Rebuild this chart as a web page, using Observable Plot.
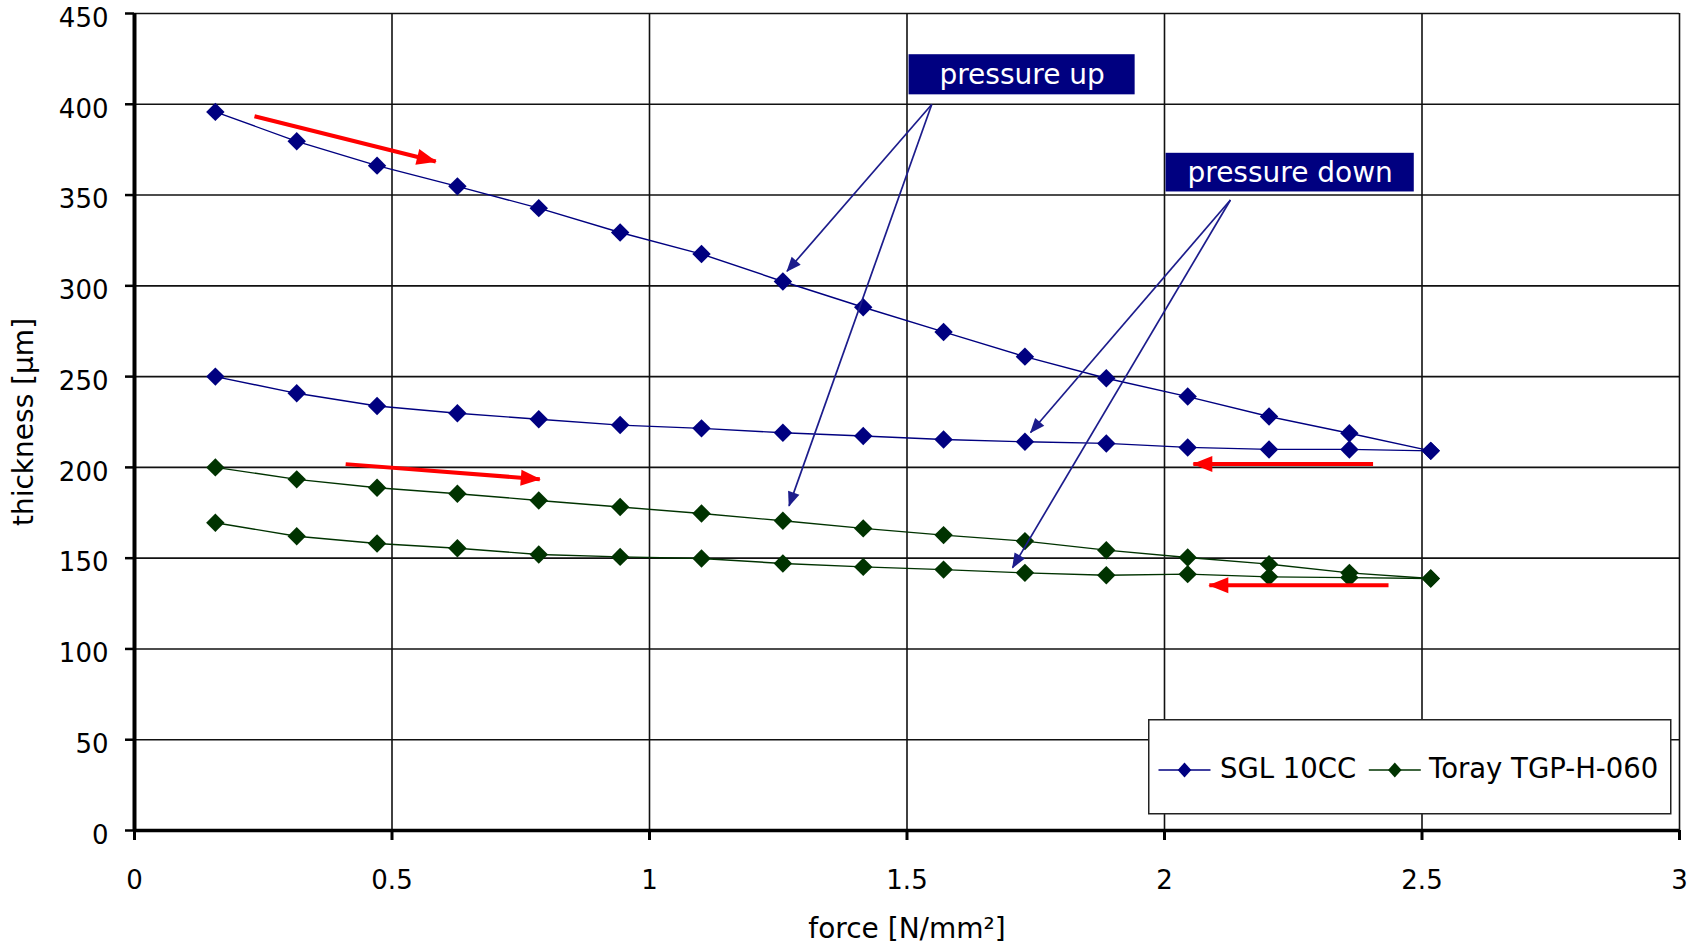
<!DOCTYPE html>
<html><head><meta charset="utf-8">
<script src="https://cdn.jsdelivr.net/npm/d3@7"></script>
<script src="https://cdn.jsdelivr.net/npm/@observablehq/plot@0.6"></script>
<style>
html,body{margin:0;padding:0;background:#fff;}
#wrap{position:relative;width:1701px;height:943px;overflow:hidden;background:#fff;}
</style></head><body>
<div id="wrap"></div>
<script>
// ---- data ----
const force = [0.157,0.315,0.471,0.627,0.785,0.943,1.101,1.259,1.415,1.571,1.729,1.887,2.045,2.203,2.359,2.517];
const sglUp = [395.8,379.6,366.2,354.8,342.8,329.4,317.5,302.4,288.2,274.6,261.0,249.1,239.0,228.0,218.8,209.1];
const sglDown = [250.0,240.8,233.8,229.8,226.5,223.3,221.5,219.1,217.3,215.4,214.1,213.2,211.0,209.9,209.9,209.1];
const torayUp = [200.0,193.4,188.8,185.5,181.8,178.2,174.6,170.6,166.4,162.7,159.4,154.4,150.4,146.7,141.9,138.8];
const torayDown = [169.5,162.1,158.1,155.5,152.0,150.7,149.8,147.1,145.2,143.7,141.9,140.6,141.2,139.7,139.3,138.8];

const seriesNames = ["SGL 10CC", "Toray TGP-H-060"];
const seriesColors = ["#000080", "#003300"];

const xTicks = [0, 0.5, 1, 1.5, 2, 2.5, 3];
const yTicks = [0, 50, 100, 150, 200, 250, 300, 350, 400, 450];
const xTitle = "force [N/mm²]";
const yTitle = "thickness [µm]";

// callout boxes
const boxText = ["pressure up", "pressure down"];
const boxX1 = [1.504, 2.003];
const boxX2 = [1.943, 2.485];
const boxY1 = [405.2, 351.7];
const boxY2 = [427.3, 373.0];

// callout arrows (navy)
const calloutFromX = [1.548, 1.548, 2.128, 2.128];
const calloutFromY = [399.9, 399.9, 347.3, 347.3];
const calloutToX = [1.267, 1.271, 1.740, 1.705];
const calloutToY = [308.0, 178.8, 219.2, 144.8];

// direction arrows (red)
const trendFromX = [0.233, 0.410, 2.405, 2.435];
const trendFromY = [393.4, 201.8, 201.8, 135.1];
const trendToX = [0.585, 0.787, 2.056, 2.087];
const trendToY = [368.5, 193.5, 201.8, 135.1];

// ---- build tables ----
const rows = [];
const addSeries = (name, phase, ys) => ys.forEach((y, i) => rows.push({name, phase, x: force[i], y}));
addSeries(seriesNames[0], "up", sglUp);
addSeries(seriesNames[0], "down", sglDown);
addSeries(seriesNames[1], "up", torayUp);
addSeries(seriesNames[1], "down", torayDown);

const boxes = boxText.map((t, i) => ({t, x1: boxX1[i], x2: boxX2[i], y1: boxY1[i], y2: boxY2[i], cx: (boxX1[i] + boxX2[i]) / 2, cy: (boxY1[i] + boxY2[i]) / 2}));
const callouts = calloutFromX.map((_, i) => ({x1: calloutFromX[i], y1: calloutFromY[i], x2: calloutToX[i], y2: calloutToY[i]}));
const trends = trendFromX.map((_, i) => ({x1: trendFromX[i], y1: trendFromY[i], x2: trendToX[i], y2: trendToY[i]}));

function filledHead(len, wid) {
  return (color, context) => {
    const doc = (context && context.document) || document;
    const ns = "http://www.w3.org/2000/svg";
    const m = doc.createElementNS(ns, "marker");
    m.setAttribute("viewBox", `0 ${-wid / 2} ${len} ${wid}`);
    m.setAttribute("markerUnits", "userSpaceOnUse");
    m.setAttribute("markerWidth", len);
    m.setAttribute("markerHeight", wid);
    m.setAttribute("refX", len - 1);
    m.setAttribute("refY", 0);
    m.setAttribute("orient", "auto");
    m.setAttribute("overflow", "visible");
    const p = doc.createElementNS(ns, "path");
    p.setAttribute("d", `M0,${-wid / 2}L${len},0L0,${wid / 2}Z`);
    p.setAttribute("fill", color);
    p.setAttribute("stroke", "none");
    m.appendChild(p);
    return m;
  };
}

let redLinks, navyLinks;
try {
  redLinks = Plot.link(trends, {x1: "x1", y1: "y1", x2: "x2", y2: "y2", stroke: "#ff0000", strokeWidth: 4, markerEnd: filledHead(20, 16)});
  navyLinks = Plot.link(callouts, {x1: "x1", y1: "y1", x2: "x2", y2: "y2", stroke: "#1c1c8c", strokeWidth: 1.7, markerEnd: filledHead(15, 12)});
} catch (e) {
  redLinks = Plot.arrow(trends, {x1: "x1", y1: "y1", x2: "x2", y2: "y2", stroke: "#ff0000", strokeWidth: 4, headLength: 14});
  navyLinks = Plot.arrow(callouts, {x1: "x1", y1: "y1", x2: "x2", y2: "y2", stroke: "#1c1c8c", strokeWidth: 1.7, headLength: 11});
}

const colorOf = d => seriesColors[seriesNames.indexOf(d.name)];
const fmt = d => String(d);

const plot = Plot.plot({
  width: 1701,
  height: 943,
  marginLeft: 134,
  marginRight: 22,
  marginTop: 13,
  marginBottom: 113,
  style: {fontFamily: "DejaVu Sans", fontSize: "26px", background: "#fff", color: "#000", overflow: "visible"},
  x: {domain: [0, 3], label: null},
  y: {domain: [0, 450], label: null},
  marks: [
    Plot.gridY(yTicks, {stroke: "#111", strokeOpacity: 1, strokeWidth: 1.6}),
    Plot.gridX(xTicks, {stroke: "#111", strokeOpacity: 1, strokeWidth: 1.6}),
    Plot.axisY(yTicks, {anchor: "left", tickSize: 9, tickFormat: () => "", strokeWidth: 2.5, stroke: "#000", label: null}),
    Plot.axisY(yTicks, {anchor: "left", tickSize: 0, tickPadding: 26, dy: 5, tickFormat: fmt, label: null, fontSize: 26}),
    Plot.axisX(xTicks, {anchor: "bottom", tickSize: 10, tickPadding: 30, strokeWidth: 3, stroke: "#000", tickFormat: fmt, label: null, fontSize: 26}),
    Plot.ruleX([0], {stroke: "#000", strokeWidth: 4}),
    Plot.ruleY([0], {stroke: "#000", strokeWidth: 3.5}),
    Plot.line(rows, {x: "x", y: "y", z: d => d.name + d.phase, stroke: colorOf, strokeWidth: 1.4}),
    Plot.dot(rows, {x: "x", y: "y", symbol: "diamond2", r: 8.3, fill: colorOf, stroke: "none"}),
    Plot.rect(boxes, {x1: "x1", x2: "x2", y1: "y1", y2: "y2", fill: "#000080"}),
    Plot.text(boxes, {x: "cx", y: "cy", text: "t", fill: "#fff", fontSize: 28, fontFamily: "DejaVu Sans"}),
    navyLinks,
    redLinks,
    Plot.text([yTitle], {text: d => d, frameAnchor: "left", textAnchor: "middle", dx: -121, rotate: -90, lineAnchor: "top", fontSize: 28}),
    Plot.text([xTitle], {text: d => d, frameAnchor: "bottom", textAnchor: "middle", dy: 107, lineAnchor: "bottom", fontSize: 28})
  ]
});
const wrap = document.getElementById("wrap");
wrap.appendChild(plot);

// ---- legend (drawn as an overlay box in the lower right) ----
const leg = d3.create("svg")
  .attr("width", 525).attr("height", 97)
  .style("position", "absolute").style("left", "1148px").style("top", "719px")
  .style("font-family", "DejaVu Sans");
leg.append("rect").attr("x", 0.75).attr("y", 0.75).attr("width", 522).attr("height", 94)
  .attr("fill", "#fff").attr("stroke", "#222").attr("stroke-width", 1.5);
const swX = [10.5, 220.8];
const txX = [72, 281];
seriesNames.forEach((name, i) => {
  const g = leg.append("g");
  g.append("line").attr("x1", swX[i]).attr("x2", swX[i] + 52).attr("y1", 51).attr("y2", 51)
    .attr("stroke", seriesColors[i]).attr("stroke-width", 1.5);
  const cx = swX[i] + 26;
  g.append("path").attr("d", `M${cx},${43.5}L${cx + 6.8},51L${cx},58.5L${cx - 6.8},51Z`).attr("fill", seriesColors[i]);
  g.append("text").attr("x", txX[i]).attr("y", 58.5).attr("font-size", 27.5).attr("fill", "#000").text(name);
});
wrap.appendChild(leg.node());
</script>
</body></html>
